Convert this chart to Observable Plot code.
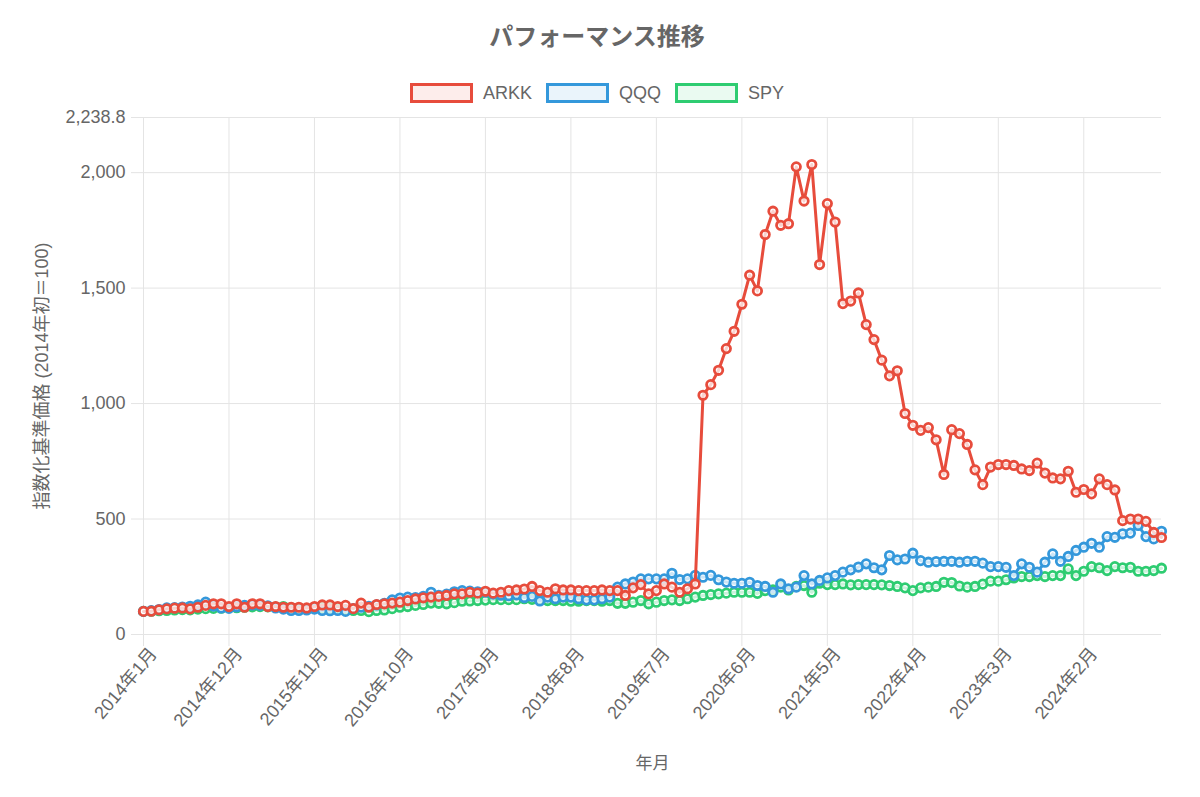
<!DOCTYPE html>
<html>
<head>
<meta charset="utf-8">
<script src="https://cdn.jsdelivr.net/npm/d3@7"></script>
<script src="https://cdn.jsdelivr.net/npm/@observablehq/plot@0.6"></script>
<style>
  html, body { margin: 0; padding: 0; background: #fff; }
  body { width: 1200px; height: 797px; position: relative; overflow: hidden;
         font-family: "Liberation Sans", "Noto Sans CJK JP", sans-serif; color: #666; }
  #title { position: absolute; top: 22px; left: -3px; width: 1200px; text-align: center;
           font-weight: bold; font-size: 24px; line-height: 30px; color: #666; }
  #legend { position: absolute; top: 82px; left: -3px; width: 1200px; display: flex;
            justify-content: center; align-items: center; height: 22px; }
  .item { display: flex; align-items: center; margin: 0 7px; }
  .box { width: 63px; height: 20px; box-sizing: border-box; border: 3px solid; margin-right: 10px; }
  .lab { font-size: 18px; color: #666; }
  #chart { position: absolute; top: 110px; left: 0; }
</style>
</head>
<body>
<div id="title">パフォーマンス推移</div>
<div id="legend"></div>
<div id="chart"></div>
<script>
// Categories: monthly from 2014年1月 to 2024年12月
const startYear = 2014;
const monthCount = 132;
const months = Array.from({length: monthCount}, (_, i) => `${startYear + Math.floor(i / 12)}年${i % 12 + 1}月`);
const xTickLabels = ["2014年1月","2014年12月","2015年11月","2016年10月","2017年9月","2018年8月","2019年7月","2020年6月","2021年5月","2022年4月","2023年3月","2024年2月"];
const yTicks = [0, 500, 1000, 1500, 2000, 2238.8];

const seriesNames = ["ARKK", "QQQ", "SPY"];
const seriesColors = ["#e74c3c", "#3498db", "#2ecc71"];
const seriesFills = ["rgba(231,76,60,0.1)", "rgba(52,152,219,0.1)", "rgba(46,204,113,0.1)"];

const arkk = [
  100,101,107,111,114,115,111,118,126,133,133,121,
  133,118,133,133,121,121,118,118,118,115,121,128,
  128,121,126,112,136,118,130,133,136,140,147,154,
  159,162,165,169,176,176,183,179,187,179,183,190,
  193,197,208,190,183,198,193,193,190,190,190,193,
  190,190,169,202,216,176,190,219,205,183,198,219,
  1036,1082,1144,1238,1313,1430,1556,1488,1732,1833,1772,1779,
  2025,1877,2035.3,1602,1866,1786,1433,1444,1479,1342,1277,1188,
  1120,1142,957,906,884,896,843,693,887,870,823,713,
  649,725,736,736,732,717,710,742,699,678,674,707,
  616,628,609,674,649,626,493,500,500,490,442,420
];

const qqq = [
  100,103,108,115,116,119,122,128,140,123,115,113,
  120,126,128,126,124,115,110,104,104,106,110,104,
  103,104,100,112,118,122,128,135,150,158,162,160,
  165,183,170,175,185,190,188,185,183,175,170,168,
  172,160,165,145,162,155,162,162,155,150,150,155,
  162,205,219,227,241,241,241,241,265,238,241,256,
  248,256,237,227,222,222,226,212,208,183,219,198,
  205,255,219,234,245,255,270,280,292,306,289,280,
  342,323,327,352,320,313,316,317,317,313,317,317,
  309,294,294,291,255,306,291,270,313,349,317,338,
  364,378,395,378,424,421,436,439,472,424,414,447
];

const spy = [
  100,101,103,104,106,108,107,110,112,113,114,117,
  116,118,120,121,120,119,121,115,112,110,113,116,
  114,110,106,104,104,99,104,106,112,118,121,126,
  130,136,135,133,138,144,145,147,149,151,151,151,
  151,155,152,150,147,147,147,144,144,147,147,144,
  147,135,135,140,147,133,140,147,150,147,155,162,
  169,173,176,179,183,183,183,178,190,193,205,193,
  208,212,183,222,216,216,219,215,216,216,216,215,
  212,208,202,190,202,205,208,226,225,210,205,208,
  218,231,231,237,245,251,251,255,251,255,255,284,
  255,274,294,289,277,294,289,291,274,274,277,287
];

const seriesValues = [arkk, qqq, spy];

// legend
const legend = document.getElementById("legend");
seriesNames.forEach((n, k) => {
  const it = document.createElement("div");
  it.className = "item";
  it.innerHTML = `<div class="box" style="border-color:${seriesColors[k]};background:${seriesFills[k]}"></div><span class="lab">${n}</span>`;
  legend.appendChild(it);
});

const gridColor = "#e4e4e4";
const marks = [
  Plot.ruleY(yTicks, {stroke: gridColor, insetLeft: -12}),
  Plot.ruleX(xTickLabels, {stroke: gridColor, insetBottom: -12}),
  Plot.axisY({ticks: yTicks, tickFormat: d3.format(","), tickSize: 0, tickPadding: 18,
              fontSize: 18, color: "#666", label: null}),
  Plot.axisX({ticks: xTickLabels, tickSize: 0, tickPadding: 16, tickRotate: -50, dx: 10,
              fontSize: 18, color: "#666", label: null}),
  Plot.text(["指数化基準価格 (2014年初＝100)"], {frameAnchor: "left", dx: -101, rotate: -90,
              textAnchor: "middle", fontSize: 18, fill: "#666"}),
  Plot.text(["年月"], {frameAnchor: "bottom", dy: 134, textAnchor: "middle", fontSize: 17, fill: "#666"})
];

// draw SPY first, ARKK last (on top)
for (const k of [2, 1, 0]) {
  const vals = seriesValues[k];
  marks.push(Plot.line(vals, {x: (d, i) => months[i], y: d => d, stroke: seriesColors[k], strokeWidth: 3}));
  marks.push(Plot.dot(vals, {x: (d, i) => months[i], y: d => d, r: 4.2, stroke: seriesColors[k],
                              strokeWidth: 2.8, fill: "white", fillOpacity: 0.75}));
}

const chart = Plot.plot({
  width: 1200,
  height: 687,
  marginTop: 7,
  marginBottom: 163,
  marginLeft: 143,
  marginRight: 39,
  style: {fontFamily: '"Liberation Sans", "Noto Sans CJK JP", sans-serif', fontSize: "18px", color: "#666", background: "#fff", overflow: "visible"},
  x: {type: "point", domain: months, padding: 0},
  y: {domain: [0, 2238.8]},
  marks
});
document.getElementById("chart").appendChild(chart);
</script>
</body>
</html>
